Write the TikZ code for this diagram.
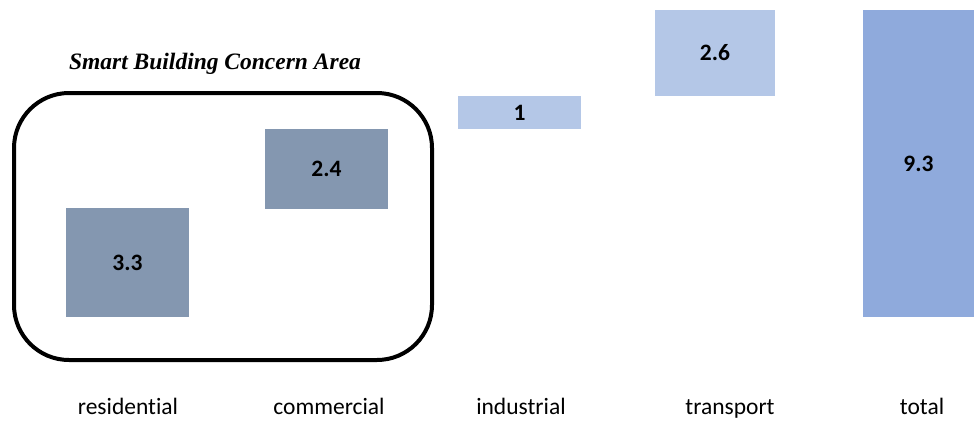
\documentclass[tikz,border=0pt]{standalone}
\usepackage{fontspec}
\setmainfont{Carlito}[Ligatures={NoCommon}]
\newfontfamily\titlefont{Liberation Serif}
\definecolor{bldg}{HTML}{8497B0}
\definecolor{light}{HTML}{B4C7E7}
\definecolor{sum}{HTML}{8FAADC}
\tikzset{
  bar/.style={draw=none, inner sep=0pt, font=\fontsize{23.5}{28}\selectfont\bfseries},
  cat/.style={inner sep=0pt, anchor=base, font=\fontsize{23.5}{28}\selectfont},
  area/.style={draw=black, line width=4pt, rounded corners=55pt}
}
\begin{document}
\begin{tikzpicture}[x=1pt, y=-1pt]
\useasboundingbox (0,0) rectangle (974,421);
\fill[white] (0,0) rectangle (974,421);
% grouping frame around the building sectors
\draw[area] (14,93) rectangle (432,360);
\node[font=\titlefont\fontsize{23.5}{28}\selectfont\bfseries\itshape] (title) at (215,64) {Smart Building Concern Area};
% waterfall bars
\node[bar, fill=bldg, minimum width=123pt, minimum height=109pt] (res) at (127.5,262.5) {3.3};
\node[bar, fill=bldg, minimum width=123pt, minimum height=80pt] (com) at (326.5,169) {2.4};
\node[bar, fill=light, minimum width=123pt, minimum height=33pt] (ind) at (519.5,112.5) {1};
\node[bar, fill=light, minimum width=120pt, minimum height=86pt] (tra) at (715,53) {2.6};
\node[bar, fill=sum, minimum width=111pt, minimum height=307pt] (tot) at (918.5,163.5) {9.3};
% category labels, sharing one baseline
\node[cat] (lres) at (128,414) {residential};
\node[cat] (lcom) at (329,414) {commercial};
\node[cat] (lind) at (521,414) {industrial};
\node[cat] (ltra) at (730,414) {transport};
\node[cat] (ltot) at (922,414) {total};
\end{tikzpicture}
\end{document}
